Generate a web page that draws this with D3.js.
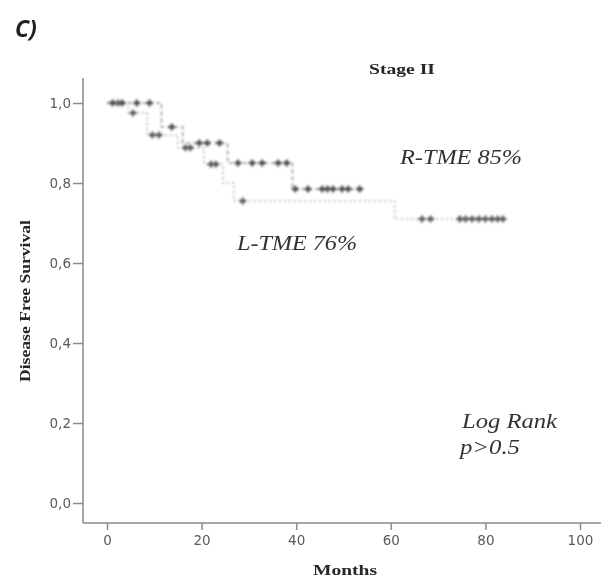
<!DOCTYPE html>
<html>
<head>
<meta charset="utf-8">
<script src="https://cdn.jsdelivr.net/npm/d3@7"></script>
<style>
  html, body { margin: 0; padding: 0; background: #fff; }
  svg { display: block; }
</style>
</head>
<body>
<svg id="chart" width="605" height="581"></svg>
<script>
// ---- data ----
const xTicks = [0, 20, 40, 60, 80, 100];
const yTicks = [0, 0.2, 0.4, 0.6, 0.8, 1.0];
const yTickLabels = ["0,0", "0,2", "0,4", "0,6", "0,8", "1,0"];

// R-TME: step times and survival after each step
const rtmeTimes = [0, 11.5, 16, 25.5, 39.2];
const rtmeSurv  = [1.0, 0.94, 0.90, 0.85, 0.785];
const rtmeEnd = 53.8;
const rtmeCensor = [1.2, 3.2, 6.3, 9.0, 13.7, 19.5, 21.2, 23.8, 27.7, 30.7, 32.8, 36.2, 38.0,
                    39.8, 42.5, 45.5, 46.6, 47.8, 49.7, 51.0, 53.4];

// L-TME
const ltmeTimes = [0, 4.5, 8.5, 15, 20.5, 24.5, 26.8, 60.8];
const ltmeSurv  = [1.0, 0.975, 0.92, 0.888, 0.847, 0.80, 0.755, 0.71];
const ltmeEnd = 84;
const ltmeCensor = [2.3, 5.5, 9.6, 11.0, 16.6, 17.6, 22.0, 23.0, 28.7,
                    66.6, 68.4, 74.6, 75.8, 77.2, 78.6, 80.0, 81.4, 82.6, 83.7];

// ---- layout ----
const svg = d3.select("#chart");
const x = d3.scaleLinear().domain([0, 100]).range([107, 580]);
const y = d3.scaleLinear().domain([0, 1]).range([503, 103]);
const axisColor = "#8a8a8a";

const defs = svg.append("defs");
defs.append("filter").attr("id", "blur").append("feGaussianBlur").attr("stdDeviation", 0.9);
defs.append("filter").attr("id", "soft").append("feGaussianBlur").attr("stdDeviation", 0.45);

// axes lines
svg.append("line").attr("x1", 83).attr("x2", 83).attr("y1", 78).attr("y2", 523)
  .attr("stroke", axisColor).attr("stroke-width", 1.5);
svg.append("line").attr("x1", 83).attr("x2", 601).attr("y1", 523).attr("y2", 523)
  .attr("stroke", axisColor).attr("stroke-width", 1.5);

// y ticks
const yAxis = d3.axisLeft(y).tickValues(yTicks).tickSize(10)
  .tickFormat((d, i) => yTickLabels[i]);
const gy = svg.append("g").attr("transform", "translate(83,0)").call(yAxis);
gy.select(".domain").remove();
gy.selectAll(".tick line").attr("stroke", axisColor).attr("stroke-width", 1.5);
gy.selectAll(".tick text").attr("fill", "#5a5a5a").attr("font-family", "DejaVu Sans")
  .attr("font-size", 13.5).attr("x", -12).attr("filter", "url(#soft)");

// x ticks
const xAxis = d3.axisBottom(x).tickValues(xTicks).tickSize(7);
const gx = svg.append("g").attr("transform", "translate(0,523)").call(xAxis);
gx.select(".domain").remove();
gx.selectAll(".tick line").attr("stroke", axisColor).attr("stroke-width", 1.5);
gx.selectAll(".tick text").attr("fill", "#5a5a5a").attr("font-family", "DejaVu Sans")
  .attr("font-size", 13.5).attr("y", 12).attr("filter", "url(#soft)");

// step path builder
function stepPoints(times, surv, end) {
  const pts = [];
  for (let i = 0; i < times.length; i++) {
    const tNext = i < times.length - 1 ? times[i + 1] : end;
    pts.push([times[i], surv[i]]);
    pts.push([tNext, surv[i]]);
  }
  return pts;
}
function survAt(times, surv, t) {
  let s = surv[0];
  for (let i = 0; i < times.length; i++) if (times[i] <= t) s = surv[i];
  return s;
}
const line = d3.line().x(d => x(d[0])).y(d => y(d[1]));

function drawCurve(times, surv, end, censor, stroke, dash, markColor) {
  const g = svg.append("g").attr("filter", "url(#blur)");
  g.append("path").attr("d", line(stepPoints(times, surv, end)))
    .attr("fill", "none").attr("stroke", stroke).attr("stroke-width", 1.6)
    .attr("stroke-dasharray", dash);
  censor.forEach(t => {
    const s = survAt(times, surv, t);
    g.append("line").attr("x1", x(t)).attr("x2", x(t)).attr("y1", y(s) - 3.5).attr("y2", y(s) + 3.5)
      .attr("stroke", markColor).attr("stroke-width", 2);
    g.append("line").attr("x1", x(t) - 3.5).attr("x2", x(t) + 3.5).attr("y1", y(s)).attr("y2", y(s))
      .attr("stroke", markColor).attr("stroke-width", 2.6);
  });
}
drawCurve(ltmeTimes, ltmeSurv, ltmeEnd, ltmeCensor, "#b0b0b0", "2,3", "#555");
drawCurve(rtmeTimes, rtmeSurv, rtmeEnd, rtmeCensor, "#9a9a9a", "4,3", "#444");

// texts
function txt(xp, yp, s, opts) {
  const t = svg.append("text").attr("x", xp).attr("y", yp).text(s)
    .attr("font-family", opts.family).attr("font-size", opts.size)
    .attr("fill", opts.fill || "#262626").attr("filter", "url(#soft)");
  if (opts.italic) t.attr("font-style", "italic");
  if (opts.bold) t.attr("font-weight", "bold");
  if (opts.anchor) t.attr("text-anchor", opts.anchor);
  if (opts.len) t.attr("textLength", opts.len).attr("lengthAdjust", "spacingAndGlyphs");
  return t;
}
txt(15, 37, "C)", {family: "Open Sans", size: 23, italic: true, bold: true, fill: "#222"});
txt(402, 74, "Stage II", {family: "Liberation Serif", size: 14, bold: true, anchor: "middle", len: 66});
txt(400, 164, "R-TME 85%", {family: "Liberation Serif", size: 20, italic: true, len: 122, fill: "#333"});
txt(237, 250, "L-TME 76%", {family: "Liberation Serif", size: 20, italic: true, len: 120, fill: "#333"});
txt(462, 428, "Log Rank", {family: "Liberation Serif", size: 20, italic: true, len: 95, fill: "#333"});
txt(460, 454, "p>0.5", {family: "Liberation Serif", size: 20, italic: true, len: 60, fill: "#333"});
svg.append("text").attr("transform", "translate(30,301) rotate(-90)").attr("text-anchor", "middle")
  .text("Disease Free Survival")
  .attr("font-family", "Liberation Serif").attr("font-weight", "bold")
  .attr("font-size", 14).attr("fill", "#262626").attr("filter", "url(#soft)")
  .attr("textLength", 162).attr("lengthAdjust", "spacingAndGlyphs");
txt(345, 575, "Months", {family: "Liberation Serif", size: 14, bold: true, anchor: "middle", len: 64});
</script>
</body>
</html>
